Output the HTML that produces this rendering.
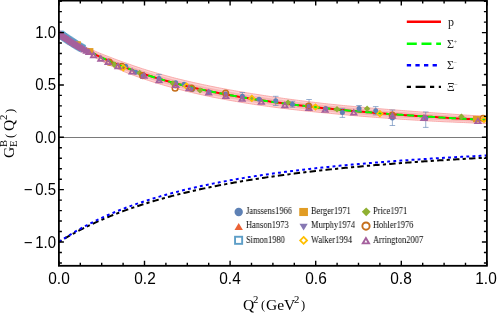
<!DOCTYPE html>
<html><head><meta charset="utf-8"><style>
html,body{margin:0;padding:0;background:#fff;}
body{width:498px;height:314px;position:relative;overflow:hidden;font-family:"Liberation Sans",sans-serif;}
.t{position:absolute;will-change:transform;white-space:nowrap;color:#000;line-height:1;}
.yl{font-size:15px;width:40px;text-align:right;left:16px;transform:scaleY(1.07);transform-origin:50% 50%;}
.xl{font-size:15px;width:40px;text-align:center;top:271px;transform:scale(1.03,1.07);transform-origin:50% 50%;}
.mn{display:inline-block;margin-right:2.6px;}
.lg{font-family:"Liberation Serif",serif;font-size:9.5px;color:#000;transform-origin:0 50%;transform:scaleX(0.888);}
.ll{font-family:"Liberation Serif",serif;font-size:12px;color:#222;}
.ll sup{font-size:6.5px;vertical-align:baseline;position:relative;top:-4.2px;color:#666;margin-left:-0.5px;}
.ax{font-family:"Liberation Serif",serif;font-size:15.5px;}
.ax sup,.ax sub{font-size:11px;vertical-align:baseline;position:relative;}
</style></head><body>
<svg width="498" height="314" viewBox="0 0 498 314" style="position:absolute;left:0;top:0">
<rect width="498" height="314" fill="#fff"/>
<clipPath id="cp"><rect x="58.9" y="0.6" width="428.0" height="265.2"/></clipPath>
<g clip-path="url(#cp)">
<line x1="58.9" x2="486.9" y1="137.5" y2="137.5" stroke="#7a7a7a" stroke-width="1"/>
<path d="M58.90 32.60 L61.04 33.93 L63.18 35.23 L65.32 36.50 L67.46 37.71 L69.60 38.88 L71.74 40.04 L73.88 41.22 L76.02 42.37 L78.16 43.50 L80.30 44.60 L82.44 45.61 L84.58 46.60 L86.72 47.56 L88.86 48.50 L91.00 49.42 L93.14 50.35 L95.28 51.29 L97.42 52.20 L99.56 53.09 L101.70 53.97 L103.84 54.82 L105.98 55.66 L108.12 56.48 L110.26 57.29 L112.40 58.13 L114.54 58.95 L116.68 59.76 L118.82 60.55 L120.96 61.33 L123.10 62.09 L125.24 62.84 L127.38 63.57 L129.52 64.34 L131.66 65.10 L133.80 65.85 L135.94 66.58 L138.08 67.30 L140.22 68.01 L142.36 68.71 L144.50 69.39 L146.64 70.07 L148.78 70.73 L150.92 71.38 L153.06 72.02 L155.20 72.65 L157.34 73.27 L159.48 73.89 L161.62 74.50 L163.76 75.10 L165.90 75.69 L168.04 76.27 L170.18 76.84 L172.32 77.41 L174.46 77.96 L176.60 78.51 L178.74 79.04 L180.88 79.57 L183.02 80.10 L185.16 80.61 L187.30 81.11 L189.44 81.61 L191.58 82.10 L193.72 82.59 L195.86 83.06 L198.00 83.53 L200.14 83.99 L202.28 84.45 L204.42 84.90 L206.56 85.34 L208.70 85.78 L210.84 86.22 L212.98 86.66 L215.12 87.09 L217.26 87.51 L219.40 87.93 L221.54 88.34 L223.68 88.75 L225.82 89.15 L227.96 89.55 L230.10 89.94 L232.24 90.32 L234.38 90.70 L236.52 91.08 L238.66 91.45 L240.80 91.81 L242.94 92.17 L245.08 92.53 L247.22 92.88 L249.36 93.23 L251.50 93.57 L253.64 93.91 L255.78 94.24 L257.92 94.59 L260.06 94.93 L262.20 95.26 L264.34 95.60 L266.48 95.92 L268.62 96.25 L270.76 96.57 L272.90 96.88 L275.04 97.20 L277.18 97.51 L279.32 97.81 L281.46 98.11 L283.60 98.41 L285.74 98.71 L287.88 99.00 L290.02 99.29 L292.16 99.57 L294.30 99.86 L296.44 100.14 L298.58 100.41 L300.72 100.69 L302.86 100.96 L305.00 101.23 L307.14 101.50 L309.28 101.76 L311.42 102.02 L313.56 102.28 L315.70 102.53 L317.84 102.78 L319.98 103.03 L322.12 103.28 L324.26 103.53 L326.40 103.77 L328.54 104.01 L330.68 104.23 L332.82 104.45 L334.96 104.67 L337.10 104.89 L339.24 105.10 L341.38 105.31 L343.52 105.52 L345.66 105.73 L347.80 105.94 L349.94 106.14 L352.08 106.34 L354.22 106.54 L356.36 106.74 L358.50 106.93 L360.64 107.12 L362.78 107.31 L364.92 107.50 L367.06 107.69 L369.20 107.88 L371.34 108.06 L373.48 108.24 L375.62 108.42 L377.76 108.60 L379.90 108.78 L382.04 108.95 L384.18 109.13 L386.32 109.30 L388.46 109.47 L390.60 109.64 L392.74 109.80 L394.88 109.97 L397.02 110.13 L399.16 110.29 L401.30 110.45 L403.44 110.62 L405.58 110.79 L407.72 110.95 L409.86 111.11 L412.00 111.28 L414.14 111.44 L416.28 111.59 L418.42 111.75 L420.56 111.91 L422.70 112.06 L424.84 112.22 L426.98 112.37 L429.12 112.52 L431.26 112.67 L433.40 112.82 L435.54 112.96 L437.68 113.11 L439.82 113.25 L441.96 113.40 L444.10 113.54 L446.24 113.70 L448.38 113.86 L450.52 114.03 L452.66 114.19 L454.80 114.34 L456.94 114.50 L459.08 114.66 L461.22 114.81 L463.36 114.95 L465.50 115.08 L467.64 115.21 L469.78 115.34 L471.92 115.47 L474.06 115.60 L476.20 115.73 L478.34 115.85 L480.48 115.98 L482.62 116.10 L484.76 116.23 L486.90 116.35 L486.90 123.55 L484.76 123.46 L482.62 123.37 L480.48 123.28 L478.34 123.19 L476.20 123.09 L474.06 123.00 L471.92 122.90 L469.78 122.81 L467.64 122.71 L465.50 122.61 L463.36 122.51 L461.22 122.41 L459.08 122.33 L456.94 122.25 L454.80 122.17 L452.66 122.09 L450.52 122.00 L448.38 121.91 L446.24 121.83 L444.10 121.74 L441.96 121.63 L439.82 121.51 L437.68 121.40 L435.54 121.28 L433.40 121.17 L431.26 121.05 L429.12 120.93 L426.98 120.81 L424.84 120.69 L422.70 120.56 L420.56 120.44 L418.42 120.31 L416.28 120.18 L414.14 120.06 L412.00 119.93 L409.86 119.79 L407.72 119.66 L405.58 119.53 L403.44 119.39 L401.30 119.25 L399.16 119.10 L397.02 118.96 L394.88 118.80 L392.74 118.65 L390.60 118.50 L388.46 118.34 L386.32 118.18 L384.18 118.03 L382.04 117.86 L379.90 117.70 L377.76 117.54 L375.62 117.37 L373.48 117.20 L371.34 117.03 L369.20 116.86 L367.06 116.69 L364.92 116.51 L362.78 116.34 L360.64 116.16 L358.50 115.97 L356.36 115.79 L354.22 115.61 L352.08 115.42 L349.94 115.23 L347.80 115.04 L345.66 114.84 L343.52 114.64 L341.38 114.45 L339.24 114.25 L337.10 114.04 L334.96 113.84 L332.82 113.63 L330.68 113.42 L328.54 113.21 L326.40 113.00 L324.26 112.80 L322.12 112.59 L319.98 112.38 L317.84 112.17 L315.70 111.96 L313.56 111.74 L311.42 111.52 L309.28 111.30 L307.14 111.07 L305.00 110.84 L302.86 110.61 L300.72 110.38 L298.58 110.14 L296.44 109.90 L294.30 109.66 L292.16 109.41 L290.02 109.15 L287.88 108.90 L285.74 108.64 L283.60 108.38 L281.46 108.11 L279.32 107.85 L277.18 107.57 L275.04 107.30 L272.90 107.02 L270.76 106.73 L268.62 106.45 L266.48 106.16 L264.34 105.86 L262.20 105.56 L260.06 105.26 L257.92 104.95 L255.78 104.64 L253.64 104.31 L251.50 103.98 L249.36 103.64 L247.22 103.30 L245.08 102.95 L242.94 102.60 L240.80 102.25 L238.66 101.88 L236.52 101.52 L234.38 101.15 L232.24 100.77 L230.10 100.39 L227.96 100.00 L225.82 99.61 L223.68 99.22 L221.54 98.81 L219.40 98.41 L217.26 97.99 L215.12 97.57 L212.98 97.15 L210.84 96.71 L208.70 96.28 L206.56 95.82 L204.42 95.36 L202.28 94.89 L200.14 94.41 L198.00 93.93 L195.86 93.44 L193.72 92.94 L191.58 92.44 L189.44 91.93 L187.30 91.41 L185.16 90.88 L183.02 90.35 L180.88 89.80 L178.74 89.25 L176.60 88.69 L174.46 88.13 L172.32 87.55 L170.18 86.97 L168.04 86.37 L165.90 85.77 L163.76 85.16 L161.62 84.54 L159.48 83.91 L157.34 83.27 L155.20 82.61 L153.06 81.93 L150.92 81.25 L148.78 80.56 L146.64 79.85 L144.50 79.14 L142.36 78.41 L140.22 77.67 L138.08 76.92 L135.94 76.15 L133.80 75.38 L131.66 74.59 L129.52 73.79 L127.38 72.97 L125.24 72.09 L123.10 71.19 L120.96 70.28 L118.82 69.35 L116.68 68.41 L114.54 67.45 L112.40 66.48 L110.26 65.49 L108.12 64.43 L105.98 63.35 L103.84 62.26 L101.70 61.14 L99.56 60.01 L97.42 58.86 L95.28 57.70 L93.14 56.51 L91.00 55.28 L88.86 54.00 L86.72 52.69 L84.58 51.37 L82.44 50.02 L80.30 48.65 L78.16 47.18 L76.02 45.69 L73.88 44.18 L71.74 42.64 L69.60 41.02 L67.46 39.37 L65.32 37.70 L63.18 36.03 L61.04 34.33 L58.90 32.60Z" fill="#FDD3D3"/>
<path d="M58.90 32.60 L61.04 34.02 L63.18 35.41 L65.32 36.77 L67.46 38.08 L69.60 39.36 L71.74 40.62 L73.88 41.88 L76.02 43.12 L78.16 44.33 L80.30 45.51 L82.44 46.60 L84.58 47.67 L86.72 48.71 L88.86 49.74 L91.00 50.74 L93.14 51.74 L95.28 52.73 L97.42 53.70 L99.56 54.65 L101.70 55.58 L103.84 56.50 L105.98 57.39 L108.12 58.27 L110.26 59.13 L112.40 60.00 L114.54 60.86 L116.68 61.70 L118.82 62.53 L120.96 63.34 L123.10 64.14 L125.24 64.92 L127.38 65.68 L129.52 66.47 L131.66 67.24 L133.80 67.99 L135.94 68.74 L138.08 69.47 L140.22 70.18 L142.36 70.89 L144.50 71.59 L146.64 72.27 L148.78 72.94 L150.92 73.60 L153.06 74.25 L155.20 74.89 L157.34 75.52 L159.48 76.14 L161.62 76.76 L163.76 77.36 L165.90 77.96 L168.04 78.54 L170.18 79.12 L172.32 79.69 L174.46 80.25 L176.60 80.80 L178.74 81.34 L180.88 81.88 L183.02 82.40 L185.16 82.92 L187.30 83.43 L189.44 83.93 L191.58 84.43 L193.72 84.92 L195.86 85.40 L198.00 85.87 L200.14 86.34 L202.28 86.80 L204.42 87.25 L206.56 87.70 L208.70 88.14 L210.84 88.58 L212.98 89.02 L215.12 89.44 L217.26 89.87 L219.40 90.29 L221.54 90.70 L223.68 91.10 L225.82 91.50 L227.96 91.90 L230.10 92.29 L232.24 92.67 L234.38 93.05 L236.52 93.43 L238.66 93.80 L240.80 94.16 L242.94 94.52 L245.08 94.88 L247.22 95.23 L249.36 95.57 L251.50 95.91 L253.64 96.25 L255.78 96.58 L257.92 96.92 L260.06 97.25 L262.20 97.58 L264.34 97.91 L266.48 98.23 L268.62 98.54 L270.76 98.86 L272.90 99.16 L275.04 99.47 L277.18 99.77 L279.32 100.07 L281.46 100.36 L283.60 100.65 L285.74 100.94 L287.88 101.23 L290.02 101.51 L292.16 101.79 L294.30 102.06 L296.44 102.33 L298.58 102.60 L300.72 102.87 L302.86 103.13 L305.00 103.39 L307.14 103.65 L309.28 103.91 L311.42 104.16 L313.56 104.41 L315.70 104.65 L317.84 104.90 L319.98 105.14 L322.12 105.38 L324.26 105.61 L326.40 105.85 L328.54 106.08 L330.68 106.30 L332.82 106.52 L334.96 106.73 L337.10 106.95 L339.24 107.16 L341.38 107.37 L343.52 107.58 L345.66 107.78 L347.80 107.98 L349.94 108.18 L352.08 108.38 L354.22 108.58 L356.36 108.77 L358.50 108.97 L360.64 109.16 L362.78 109.34 L364.92 109.53 L367.06 109.71 L369.20 109.90 L371.34 110.08 L373.48 110.26 L375.62 110.44 L377.76 110.61 L379.90 110.79 L382.04 110.96 L384.18 111.13 L386.32 111.30 L388.46 111.46 L390.60 111.63 L392.74 111.79 L394.88 111.96 L397.02 112.12 L399.16 112.27 L401.30 112.43 L403.44 112.59 L405.58 112.75 L407.72 112.91 L409.86 113.07 L412.00 113.22 L414.14 113.37 L416.28 113.53 L418.42 113.68 L420.56 113.83 L422.70 113.97 L424.84 114.12 L426.98 114.27 L429.12 114.41 L431.26 114.55 L433.40 114.69 L435.54 114.83 L437.68 114.97 L439.82 115.11 L441.96 115.25 L444.10 115.38 L446.24 115.53 L448.38 115.68 L450.52 115.82 L452.66 115.96 L454.80 116.10 L456.94 116.25 L459.08 116.39 L461.22 116.52 L463.36 116.65 L465.50 116.77 L467.64 116.90 L469.78 117.02 L471.92 117.14 L474.06 117.26 L476.20 117.38 L478.34 117.50 L480.48 117.62 L482.62 117.74 L484.76 117.86 L486.90 117.97 L486.90 121.93 L484.76 121.83 L482.62 121.74 L480.48 121.64 L478.34 121.54 L476.20 121.44 L474.06 121.33 L471.92 121.23 L469.78 121.13 L467.64 121.02 L465.50 120.92 L463.36 120.81 L461.22 120.70 L459.08 120.61 L456.94 120.51 L454.80 120.41 L452.66 120.31 L450.52 120.21 L448.38 120.10 L446.24 120.00 L444.10 119.89 L441.96 119.77 L439.82 119.65 L437.68 119.53 L435.54 119.41 L433.40 119.29 L431.26 119.16 L429.12 119.04 L426.98 118.91 L424.84 118.78 L422.70 118.65 L420.56 118.52 L418.42 118.39 L416.28 118.25 L414.14 118.12 L412.00 117.98 L409.86 117.84 L407.72 117.70 L405.58 117.56 L403.44 117.42 L401.30 117.27 L399.16 117.12 L397.02 116.97 L394.88 116.82 L392.74 116.66 L390.60 116.50 L388.46 116.34 L386.32 116.18 L384.18 116.02 L382.04 115.86 L379.90 115.69 L377.76 115.53 L375.62 115.36 L373.48 115.19 L371.34 115.02 L369.20 114.84 L367.06 114.66 L364.92 114.49 L362.78 114.31 L360.64 114.12 L358.50 113.94 L356.36 113.75 L354.22 113.57 L352.08 113.37 L349.94 113.18 L347.80 112.99 L345.66 112.79 L343.52 112.59 L341.38 112.39 L339.24 112.19 L337.10 111.98 L334.96 111.77 L332.82 111.56 L330.68 111.35 L328.54 111.14 L326.40 110.93 L324.26 110.71 L322.12 110.50 L319.98 110.28 L317.84 110.06 L315.70 109.84 L313.56 109.61 L311.42 109.38 L309.28 109.15 L307.14 108.92 L305.00 108.68 L302.86 108.44 L300.72 108.20 L298.58 107.95 L296.44 107.70 L294.30 107.45 L292.16 107.19 L290.02 106.93 L287.88 106.67 L285.74 106.41 L283.60 106.14 L281.46 105.86 L279.32 105.59 L277.18 105.31 L275.04 105.02 L272.90 104.74 L270.76 104.45 L268.62 104.15 L266.48 103.85 L264.34 103.55 L262.20 103.25 L260.06 102.94 L257.92 102.62 L255.78 102.30 L253.64 101.97 L251.50 101.64 L249.36 101.30 L247.22 100.96 L245.08 100.61 L242.94 100.26 L240.80 99.90 L238.66 99.54 L236.52 99.17 L234.38 98.80 L232.24 98.42 L230.10 98.04 L227.96 97.65 L225.82 97.26 L223.68 96.86 L221.54 96.46 L219.40 96.05 L217.26 95.63 L215.12 95.21 L212.98 94.79 L210.84 94.35 L208.70 93.91 L206.56 93.46 L204.42 93.00 L202.28 92.54 L200.14 92.07 L198.00 91.59 L195.86 91.10 L193.72 90.61 L191.58 90.11 L189.44 89.61 L187.30 89.09 L185.16 88.57 L183.02 88.04 L180.88 87.50 L178.74 86.96 L176.60 86.40 L174.46 85.84 L172.32 85.27 L170.18 84.69 L168.04 84.10 L165.90 83.50 L163.76 82.90 L161.62 82.28 L159.48 81.65 L157.34 81.02 L155.20 80.37 L153.06 79.70 L150.92 79.03 L148.78 78.35 L146.64 77.65 L144.50 76.94 L142.36 76.23 L140.22 75.50 L138.08 74.75 L135.94 74.00 L133.80 73.23 L131.66 72.45 L129.52 71.66 L127.38 70.85 L125.24 70.00 L123.10 69.14 L120.96 68.26 L118.82 67.37 L116.68 66.46 L114.54 65.54 L112.40 64.60 L110.26 63.64 L108.12 62.64 L105.98 61.62 L103.84 60.58 L101.70 59.53 L99.56 58.46 L97.42 57.37 L95.28 56.25 L93.14 55.12 L91.00 53.96 L88.86 52.76 L86.72 51.54 L84.58 50.29 L82.44 49.03 L80.30 47.74 L78.16 46.35 L76.02 44.94 L73.88 43.51 L71.74 42.05 L69.60 40.54 L67.46 39.00 L65.32 37.43 L63.18 35.85 L61.04 34.24 L58.90 32.60Z" fill="#FAB6B6"/>
<path d="M58.90 32.60 L61.04 33.93 L63.18 35.23 L65.32 36.50 L67.46 37.71 L69.60 38.88 L71.74 40.04 L73.88 41.22 L76.02 42.37 L78.16 43.50 L80.30 44.60 L82.44 45.61 L84.58 46.60 L86.72 47.56 L88.86 48.50 L91.00 49.42 L93.14 50.35 L95.28 51.29 L97.42 52.20 L99.56 53.09 L101.70 53.97 L103.84 54.82 L105.98 55.66 L108.12 56.48 L110.26 57.29 L112.40 58.13 L114.54 58.95 L116.68 59.76 L118.82 60.55 L120.96 61.33 L123.10 62.09 L125.24 62.84 L127.38 63.57 L129.52 64.34 L131.66 65.10 L133.80 65.85 L135.94 66.58 L138.08 67.30 L140.22 68.01 L142.36 68.71 L144.50 69.39 L146.64 70.07 L148.78 70.73 L150.92 71.38 L153.06 72.02 L155.20 72.65 L157.34 73.27 L159.48 73.89 L161.62 74.50 L163.76 75.10 L165.90 75.69 L168.04 76.27 L170.18 76.84 L172.32 77.41 L174.46 77.96 L176.60 78.51 L178.74 79.04 L180.88 79.57 L183.02 80.10 L185.16 80.61 L187.30 81.11 L189.44 81.61 L191.58 82.10 L193.72 82.59 L195.86 83.06 L198.00 83.53 L200.14 83.99 L202.28 84.45 L204.42 84.90 L206.56 85.34 L208.70 85.78 L210.84 86.22 L212.98 86.66 L215.12 87.09 L217.26 87.51 L219.40 87.93 L221.54 88.34 L223.68 88.75 L225.82 89.15 L227.96 89.55 L230.10 89.94 L232.24 90.32 L234.38 90.70 L236.52 91.08 L238.66 91.45 L240.80 91.81 L242.94 92.17 L245.08 92.53 L247.22 92.88 L249.36 93.23 L251.50 93.57 L253.64 93.91 L255.78 94.24 L257.92 94.59 L260.06 94.93 L262.20 95.26 L264.34 95.60 L266.48 95.92 L268.62 96.25 L270.76 96.57 L272.90 96.88 L275.04 97.20 L277.18 97.51 L279.32 97.81 L281.46 98.11 L283.60 98.41 L285.74 98.71 L287.88 99.00 L290.02 99.29 L292.16 99.57 L294.30 99.86 L296.44 100.14 L298.58 100.41 L300.72 100.69 L302.86 100.96 L305.00 101.23 L307.14 101.50 L309.28 101.76 L311.42 102.02 L313.56 102.28 L315.70 102.53 L317.84 102.78 L319.98 103.03 L322.12 103.28 L324.26 103.53 L326.40 103.77 L328.54 104.01 L330.68 104.23 L332.82 104.45 L334.96 104.67 L337.10 104.89 L339.24 105.10 L341.38 105.31 L343.52 105.52 L345.66 105.73 L347.80 105.94 L349.94 106.14 L352.08 106.34 L354.22 106.54 L356.36 106.74 L358.50 106.93 L360.64 107.12 L362.78 107.31 L364.92 107.50 L367.06 107.69 L369.20 107.88 L371.34 108.06 L373.48 108.24 L375.62 108.42 L377.76 108.60 L379.90 108.78 L382.04 108.95 L384.18 109.13 L386.32 109.30 L388.46 109.47 L390.60 109.64 L392.74 109.80 L394.88 109.97 L397.02 110.13 L399.16 110.29 L401.30 110.45 L403.44 110.62 L405.58 110.79 L407.72 110.95 L409.86 111.11 L412.00 111.28 L414.14 111.44 L416.28 111.59 L418.42 111.75 L420.56 111.91 L422.70 112.06 L424.84 112.22 L426.98 112.37 L429.12 112.52 L431.26 112.67 L433.40 112.82 L435.54 112.96 L437.68 113.11 L439.82 113.25 L441.96 113.40 L444.10 113.54 L446.24 113.70 L448.38 113.86 L450.52 114.03 L452.66 114.19 L454.80 114.34 L456.94 114.50 L459.08 114.66 L461.22 114.81 L463.36 114.95 L465.50 115.08 L467.64 115.21 L469.78 115.34 L471.92 115.47 L474.06 115.60 L476.20 115.73 L478.34 115.85 L480.48 115.98 L482.62 116.10 L484.76 116.23 L486.90 116.35" fill="none" stroke="#F8A3A3" stroke-width="0.9"/>
<path d="M58.90 32.60 L61.04 34.33 L63.18 36.03 L65.32 37.70 L67.46 39.37 L69.60 41.02 L71.74 42.64 L73.88 44.18 L76.02 45.69 L78.16 47.18 L80.30 48.65 L82.44 50.02 L84.58 51.37 L86.72 52.69 L88.86 54.00 L91.00 55.28 L93.14 56.51 L95.28 57.70 L97.42 58.86 L99.56 60.01 L101.70 61.14 L103.84 62.26 L105.98 63.35 L108.12 64.43 L110.26 65.49 L112.40 66.48 L114.54 67.45 L116.68 68.41 L118.82 69.35 L120.96 70.28 L123.10 71.19 L125.24 72.09 L127.38 72.97 L129.52 73.79 L131.66 74.59 L133.80 75.38 L135.94 76.15 L138.08 76.92 L140.22 77.67 L142.36 78.41 L144.50 79.14 L146.64 79.85 L148.78 80.56 L150.92 81.25 L153.06 81.93 L155.20 82.61 L157.34 83.27 L159.48 83.91 L161.62 84.54 L163.76 85.16 L165.90 85.77 L168.04 86.37 L170.18 86.97 L172.32 87.55 L174.46 88.13 L176.60 88.69 L178.74 89.25 L180.88 89.80 L183.02 90.35 L185.16 90.88 L187.30 91.41 L189.44 91.93 L191.58 92.44 L193.72 92.94 L195.86 93.44 L198.00 93.93 L200.14 94.41 L202.28 94.89 L204.42 95.36 L206.56 95.82 L208.70 96.28 L210.84 96.71 L212.98 97.15 L215.12 97.57 L217.26 97.99 L219.40 98.41 L221.54 98.81 L223.68 99.22 L225.82 99.61 L227.96 100.00 L230.10 100.39 L232.24 100.77 L234.38 101.15 L236.52 101.52 L238.66 101.88 L240.80 102.25 L242.94 102.60 L245.08 102.95 L247.22 103.30 L249.36 103.64 L251.50 103.98 L253.64 104.31 L255.78 104.64 L257.92 104.95 L260.06 105.26 L262.20 105.56 L264.34 105.86 L266.48 106.16 L268.62 106.45 L270.76 106.73 L272.90 107.02 L275.04 107.30 L277.18 107.57 L279.32 107.85 L281.46 108.11 L283.60 108.38 L285.74 108.64 L287.88 108.90 L290.02 109.15 L292.16 109.41 L294.30 109.66 L296.44 109.90 L298.58 110.14 L300.72 110.38 L302.86 110.61 L305.00 110.84 L307.14 111.07 L309.28 111.30 L311.42 111.52 L313.56 111.74 L315.70 111.96 L317.84 112.17 L319.98 112.38 L322.12 112.59 L324.26 112.80 L326.40 113.00 L328.54 113.21 L330.68 113.42 L332.82 113.63 L334.96 113.84 L337.10 114.04 L339.24 114.25 L341.38 114.45 L343.52 114.64 L345.66 114.84 L347.80 115.04 L349.94 115.23 L352.08 115.42 L354.22 115.61 L356.36 115.79 L358.50 115.97 L360.64 116.16 L362.78 116.34 L364.92 116.51 L367.06 116.69 L369.20 116.86 L371.34 117.03 L373.48 117.20 L375.62 117.37 L377.76 117.54 L379.90 117.70 L382.04 117.86 L384.18 118.03 L386.32 118.18 L388.46 118.34 L390.60 118.50 L392.74 118.65 L394.88 118.80 L397.02 118.96 L399.16 119.10 L401.30 119.25 L403.44 119.39 L405.58 119.53 L407.72 119.66 L409.86 119.79 L412.00 119.93 L414.14 120.06 L416.28 120.18 L418.42 120.31 L420.56 120.44 L422.70 120.56 L424.84 120.69 L426.98 120.81 L429.12 120.93 L431.26 121.05 L433.40 121.17 L435.54 121.28 L437.68 121.40 L439.82 121.51 L441.96 121.63 L444.10 121.74 L446.24 121.83 L448.38 121.91 L450.52 122.00 L452.66 122.09 L454.80 122.17 L456.94 122.25 L459.08 122.33 L461.22 122.41 L463.36 122.51 L465.50 122.61 L467.64 122.71 L469.78 122.81 L471.92 122.90 L474.06 123.00 L476.20 123.09 L478.34 123.19 L480.48 123.28 L482.62 123.37 L484.76 123.46 L486.90 123.55" fill="none" stroke="#F8A3A3" stroke-width="0.9"/>
<path d="M58.90 32.60 L61.04 34.02 L63.18 35.41 L65.32 36.77 L67.46 38.08 L69.60 39.36 L71.74 40.62 L73.88 41.88 L76.02 43.12 L78.16 44.33 L80.30 45.51 L82.44 46.60 L84.58 47.67 L86.72 48.71 L88.86 49.74 L91.00 50.74 L93.14 51.74 L95.28 52.73 L97.42 53.70 L99.56 54.65 L101.70 55.58 L103.84 56.50 L105.98 57.39 L108.12 58.27 L110.26 59.13 L112.40 60.00 L114.54 60.86 L116.68 61.70 L118.82 62.53 L120.96 63.34 L123.10 64.14 L125.24 64.92 L127.38 65.68 L129.52 66.47 L131.66 67.24 L133.80 67.99 L135.94 68.74 L138.08 69.47 L140.22 70.18 L142.36 70.89 L144.50 71.59 L146.64 72.27 L148.78 72.94 L150.92 73.60 L153.06 74.25 L155.20 74.89 L157.34 75.52 L159.48 76.14 L161.62 76.76 L163.76 77.36 L165.90 77.96 L168.04 78.54 L170.18 79.12 L172.32 79.69 L174.46 80.25 L176.60 80.80 L178.74 81.34 L180.88 81.88 L183.02 82.40 L185.16 82.92 L187.30 83.43 L189.44 83.93 L191.58 84.43 L193.72 84.92 L195.86 85.40 L198.00 85.87 L200.14 86.34 L202.28 86.80 L204.42 87.25 L206.56 87.70 L208.70 88.14 L210.84 88.58 L212.98 89.02 L215.12 89.44 L217.26 89.87 L219.40 90.29 L221.54 90.70 L223.68 91.10 L225.82 91.50 L227.96 91.90 L230.10 92.29 L232.24 92.67 L234.38 93.05 L236.52 93.43 L238.66 93.80 L240.80 94.16 L242.94 94.52 L245.08 94.88 L247.22 95.23 L249.36 95.57 L251.50 95.91 L253.64 96.25 L255.78 96.58 L257.92 96.92 L260.06 97.25 L262.20 97.58 L264.34 97.91 L266.48 98.23 L268.62 98.54 L270.76 98.86 L272.90 99.16 L275.04 99.47 L277.18 99.77 L279.32 100.07 L281.46 100.36 L283.60 100.65 L285.74 100.94 L287.88 101.23 L290.02 101.51 L292.16 101.79 L294.30 102.06 L296.44 102.33 L298.58 102.60 L300.72 102.87 L302.86 103.13 L305.00 103.39 L307.14 103.65 L309.28 103.91 L311.42 104.16 L313.56 104.41 L315.70 104.65 L317.84 104.90 L319.98 105.14 L322.12 105.38 L324.26 105.61 L326.40 105.85 L328.54 106.08 L330.68 106.30 L332.82 106.52 L334.96 106.73 L337.10 106.95 L339.24 107.16 L341.38 107.37 L343.52 107.58 L345.66 107.78 L347.80 107.98 L349.94 108.18 L352.08 108.38 L354.22 108.58 L356.36 108.77 L358.50 108.97 L360.64 109.16 L362.78 109.34 L364.92 109.53 L367.06 109.71 L369.20 109.90 L371.34 110.08 L373.48 110.26 L375.62 110.44 L377.76 110.61 L379.90 110.79 L382.04 110.96 L384.18 111.13 L386.32 111.30 L388.46 111.46 L390.60 111.63 L392.74 111.79 L394.88 111.96 L397.02 112.12 L399.16 112.27 L401.30 112.43 L403.44 112.59 L405.58 112.75 L407.72 112.91 L409.86 113.07 L412.00 113.22 L414.14 113.37 L416.28 113.53 L418.42 113.68 L420.56 113.83 L422.70 113.97 L424.84 114.12 L426.98 114.27 L429.12 114.41 L431.26 114.55 L433.40 114.69 L435.54 114.83 L437.68 114.97 L439.82 115.11 L441.96 115.25 L444.10 115.38 L446.24 115.53 L448.38 115.68 L450.52 115.82 L452.66 115.96 L454.80 116.10 L456.94 116.25 L459.08 116.39 L461.22 116.52 L463.36 116.65 L465.50 116.77 L467.64 116.90 L469.78 117.02 L471.92 117.14 L474.06 117.26 L476.20 117.38 L478.34 117.50 L480.48 117.62 L482.62 117.74 L484.76 117.86 L486.90 117.97" fill="none" stroke="#F9AEAE" stroke-width="0.7"/>
<path d="M58.90 32.60 L61.04 34.24 L63.18 35.85 L65.32 37.43 L67.46 39.00 L69.60 40.54 L71.74 42.05 L73.88 43.51 L76.02 44.94 L78.16 46.35 L80.30 47.74 L82.44 49.03 L84.58 50.29 L86.72 51.54 L88.86 52.76 L91.00 53.96 L93.14 55.12 L95.28 56.25 L97.42 57.37 L99.56 58.46 L101.70 59.53 L103.84 60.58 L105.98 61.62 L108.12 62.64 L110.26 63.64 L112.40 64.60 L114.54 65.54 L116.68 66.46 L118.82 67.37 L120.96 68.26 L123.10 69.14 L125.24 70.00 L127.38 70.85 L129.52 71.66 L131.66 72.45 L133.80 73.23 L135.94 74.00 L138.08 74.75 L140.22 75.50 L142.36 76.23 L144.50 76.94 L146.64 77.65 L148.78 78.35 L150.92 79.03 L153.06 79.70 L155.20 80.37 L157.34 81.02 L159.48 81.65 L161.62 82.28 L163.76 82.90 L165.90 83.50 L168.04 84.10 L170.18 84.69 L172.32 85.27 L174.46 85.84 L176.60 86.40 L178.74 86.96 L180.88 87.50 L183.02 88.04 L185.16 88.57 L187.30 89.09 L189.44 89.61 L191.58 90.11 L193.72 90.61 L195.86 91.10 L198.00 91.59 L200.14 92.07 L202.28 92.54 L204.42 93.00 L206.56 93.46 L208.70 93.91 L210.84 94.35 L212.98 94.79 L215.12 95.21 L217.26 95.63 L219.40 96.05 L221.54 96.46 L223.68 96.86 L225.82 97.26 L227.96 97.65 L230.10 98.04 L232.24 98.42 L234.38 98.80 L236.52 99.17 L238.66 99.54 L240.80 99.90 L242.94 100.26 L245.08 100.61 L247.22 100.96 L249.36 101.30 L251.50 101.64 L253.64 101.97 L255.78 102.30 L257.92 102.62 L260.06 102.94 L262.20 103.25 L264.34 103.55 L266.48 103.85 L268.62 104.15 L270.76 104.45 L272.90 104.74 L275.04 105.02 L277.18 105.31 L279.32 105.59 L281.46 105.86 L283.60 106.14 L285.74 106.41 L287.88 106.67 L290.02 106.93 L292.16 107.19 L294.30 107.45 L296.44 107.70 L298.58 107.95 L300.72 108.20 L302.86 108.44 L305.00 108.68 L307.14 108.92 L309.28 109.15 L311.42 109.38 L313.56 109.61 L315.70 109.84 L317.84 110.06 L319.98 110.28 L322.12 110.50 L324.26 110.71 L326.40 110.93 L328.54 111.14 L330.68 111.35 L332.82 111.56 L334.96 111.77 L337.10 111.98 L339.24 112.19 L341.38 112.39 L343.52 112.59 L345.66 112.79 L347.80 112.99 L349.94 113.18 L352.08 113.37 L354.22 113.57 L356.36 113.75 L358.50 113.94 L360.64 114.12 L362.78 114.31 L364.92 114.49 L367.06 114.66 L369.20 114.84 L371.34 115.02 L373.48 115.19 L375.62 115.36 L377.76 115.53 L379.90 115.69 L382.04 115.86 L384.18 116.02 L386.32 116.18 L388.46 116.34 L390.60 116.50 L392.74 116.66 L394.88 116.82 L397.02 116.97 L399.16 117.12 L401.30 117.27 L403.44 117.42 L405.58 117.56 L407.72 117.70 L409.86 117.84 L412.00 117.98 L414.14 118.12 L416.28 118.25 L418.42 118.39 L420.56 118.52 L422.70 118.65 L424.84 118.78 L426.98 118.91 L429.12 119.04 L431.26 119.16 L433.40 119.29 L435.54 119.41 L437.68 119.53 L439.82 119.65 L441.96 119.77 L444.10 119.89 L446.24 120.00 L448.38 120.10 L450.52 120.21 L452.66 120.31 L454.80 120.41 L456.94 120.51 L459.08 120.61 L461.22 120.70 L463.36 120.81 L465.50 120.92 L467.64 121.02 L469.78 121.13 L471.92 121.23 L474.06 121.33 L476.20 121.44 L478.34 121.54 L480.48 121.64 L482.62 121.74 L484.76 121.83 L486.90 121.93" fill="none" stroke="#F9AEAE" stroke-width="0.7"/>
<path d="M58.90 32.60 L61.04 34.13 L63.18 35.63 L65.32 37.10 L67.46 38.54 L69.60 39.95 L71.74 41.34 L73.88 42.70 L76.02 44.03 L78.16 45.34 L80.30 46.62 L82.44 47.81 L84.58 48.98 L86.72 50.13 L88.86 51.25 L91.00 52.35 L93.14 53.43 L95.28 54.49 L97.42 55.53 L99.56 56.55 L101.70 57.56 L103.84 58.54 L105.98 59.51 L108.12 60.45 L110.26 61.39 L112.40 62.30 L114.54 63.20 L116.68 64.08 L118.82 64.95 L120.96 65.80 L123.10 66.64 L125.24 67.46 L127.38 68.27 L129.52 69.06 L131.66 69.84 L133.80 70.61 L135.94 71.37 L138.08 72.11 L140.22 72.84 L142.36 73.56 L144.50 74.26 L146.64 74.96 L148.78 75.64 L150.92 76.31 L153.06 76.98 L155.20 77.63 L157.34 78.27 L159.48 78.90 L161.62 79.52 L163.76 80.13 L165.90 80.73 L168.04 81.32 L170.18 81.91 L172.32 82.48 L174.46 83.04 L176.60 83.60 L178.74 84.15 L180.88 84.69 L183.02 85.22 L185.16 85.74 L187.30 86.26 L189.44 86.77 L191.58 87.27 L193.72 87.76 L195.86 88.25 L198.00 88.73 L200.14 89.20 L202.28 89.67 L204.42 90.13 L206.56 90.58 L208.70 91.03 L210.84 91.47 L212.98 91.90 L215.12 92.33 L217.26 92.75 L219.40 93.17 L221.54 93.58 L223.68 93.98 L225.82 94.38 L227.96 94.77 L230.10 95.16 L232.24 95.55 L234.38 95.92 L236.52 96.30 L238.66 96.67 L240.80 97.03 L242.94 97.39 L245.08 97.74 L247.22 98.09 L249.36 98.44 L251.50 98.78 L253.64 99.11 L255.78 99.44 L257.92 99.77 L260.06 100.09 L262.20 100.41 L264.34 100.73 L266.48 101.04 L268.62 101.35 L270.76 101.65 L272.90 101.95 L275.04 102.25 L277.18 102.54 L279.32 102.83 L281.46 103.11 L283.60 103.40 L285.74 103.67 L287.88 103.95 L290.02 104.22 L292.16 104.49 L294.30 104.76 L296.44 105.02 L298.58 105.28 L300.72 105.53 L302.86 105.79 L305.00 106.04 L307.14 106.28 L309.28 106.53 L311.42 106.77 L313.56 107.01 L315.70 107.24 L317.84 107.48 L319.98 107.71 L322.12 107.94 L324.26 108.16 L326.40 108.39 L328.54 108.61 L330.68 108.82 L332.82 109.04 L334.96 109.25 L337.10 109.46 L339.24 109.67 L341.38 109.88 L343.52 110.08 L345.66 110.29 L347.80 110.49 L349.94 110.68 L352.08 110.88 L354.22 111.07 L356.36 111.26 L358.50 111.45 L360.64 111.64 L362.78 111.83 L364.92 112.01 L367.06 112.19 L369.20 112.37 L371.34 112.55 L373.48 112.72 L375.62 112.90 L377.76 113.07 L379.90 113.24 L382.04 113.41 L384.18 113.58 L386.32 113.74 L388.46 113.90 L390.60 114.07 L392.74 114.23 L394.88 114.39 L397.02 114.54 L399.16 114.70 L401.30 114.85 L403.44 115.00 L405.58 115.16 L407.72 115.31 L409.86 115.45 L412.00 115.60 L414.14 115.75 L416.28 115.89 L418.42 116.03 L420.56 116.17 L422.70 116.31 L424.84 116.45 L426.98 116.59 L429.12 116.72 L431.26 116.86 L433.40 116.99 L435.54 117.12 L437.68 117.25 L439.82 117.38 L441.96 117.51 L444.10 117.64 L446.24 117.76 L448.38 117.89 L450.52 118.01 L452.66 118.14 L454.80 118.26 L456.94 118.38 L459.08 118.50 L461.22 118.61 L463.36 118.73 L465.50 118.85 L467.64 118.96 L469.78 119.08 L471.92 119.19 L474.06 119.30 L476.20 119.41 L478.34 119.52 L480.48 119.63 L482.62 119.74 L484.76 119.84 L486.90 119.95" fill="none" stroke="#FF0000" stroke-width="2.0"/>
<path d="M58.90 32.60 L61.04 34.13 L63.18 35.63 L65.32 37.10 L67.46 38.54 L69.60 39.95 L71.74 41.34 L73.88 42.70 L76.02 44.03 L78.16 45.34 L80.30 46.62 L82.44 47.81 L84.58 48.98 L86.72 50.13 L88.86 51.25 L91.00 52.35 L93.14 53.43 L95.28 54.49 L97.42 55.53 L99.56 56.55 L101.70 57.56 L103.84 58.54 L105.98 59.51 L108.12 60.45 L110.26 61.39 L112.40 62.30 L114.54 63.20 L116.68 64.08 L118.82 64.95 L120.96 65.80 L123.10 66.64 L125.24 67.46 L127.38 68.27 L129.52 69.06 L131.66 69.84 L133.80 70.61 L135.94 71.37 L138.08 72.11 L140.22 72.84 L142.36 73.56 L144.50 74.26 L146.64 74.96 L148.78 75.64 L150.92 76.31 L153.06 76.98 L155.20 77.63 L157.34 78.27 L159.48 78.90 L161.62 79.52 L163.76 80.13 L165.90 80.73 L168.04 81.32 L170.18 81.91 L172.32 82.48 L174.46 83.04 L176.60 83.60 L178.74 84.15 L180.88 84.69 L183.02 85.22 L185.16 85.74 L187.30 86.26 L189.44 86.77 L191.58 87.27 L193.72 87.76 L195.86 88.25 L198.00 88.73 L200.14 89.20 L202.28 89.67 L204.42 90.13 L206.56 90.58 L208.70 91.03 L210.84 91.47 L212.98 91.90 L215.12 92.33 L217.26 92.75 L219.40 93.17 L221.54 93.58 L223.68 93.98 L225.82 94.38 L227.96 94.77 L230.10 95.16 L232.24 95.55 L234.38 95.92 L236.52 96.30 L238.66 96.67 L240.80 97.03 L242.94 97.39 L245.08 97.74 L247.22 98.09 L249.36 98.44 L251.50 98.78 L253.64 99.11 L255.78 99.44 L257.92 99.77 L260.06 100.09 L262.20 100.41 L264.34 100.73 L266.48 101.04 L268.62 101.35 L270.76 101.65 L272.90 101.95 L275.04 102.25 L277.18 102.54 L279.32 102.83 L281.46 103.11 L283.60 103.40 L285.74 103.67 L287.88 103.95 L290.02 104.22 L292.16 104.49 L294.30 104.76 L296.44 105.02 L298.58 105.28 L300.72 105.53 L302.86 105.79 L305.00 106.04 L307.14 106.28 L309.28 106.53 L311.42 106.77 L313.56 107.01 L315.70 107.24 L317.84 107.48 L319.98 107.71 L322.12 107.94 L324.26 108.16 L326.40 108.39 L328.54 108.61 L330.68 108.82 L332.82 109.04 L334.96 109.25 L337.10 109.46 L339.24 109.67 L341.38 109.88 L343.52 110.08 L345.66 110.29 L347.80 110.49 L349.94 110.68 L352.08 110.88 L354.22 111.07 L356.36 111.26 L358.50 111.45 L360.64 111.64 L362.78 111.83 L364.92 112.01 L367.06 112.19 L369.20 112.37 L371.34 112.55 L373.48 112.72 L375.62 112.90 L377.76 113.07 L379.90 113.24 L382.04 113.41 L384.18 113.58 L386.32 113.74 L388.46 113.90 L390.60 114.07 L392.74 114.23 L394.88 114.39 L397.02 114.54 L399.16 114.70 L401.30 114.85 L403.44 115.00 L405.58 115.16 L407.72 115.31 L409.86 115.45 L412.00 115.60 L414.14 115.75 L416.28 115.89 L418.42 116.03 L420.56 116.17 L422.70 116.31 L424.84 116.45 L426.98 116.59 L429.12 116.72 L431.26 116.86 L433.40 116.99 L435.54 117.12 L437.68 117.25 L439.82 117.38 L441.96 117.51 L444.10 117.64 L446.24 117.76 L448.38 117.89 L450.52 118.01 L452.66 118.14 L454.80 118.26 L456.94 118.38 L459.08 118.50 L461.22 118.61 L463.36 118.73 L465.50 118.85 L467.64 118.96 L469.78 119.08 L471.92 119.19 L474.06 119.30 L476.20 119.41 L478.34 119.52 L480.48 119.63 L482.62 119.74 L484.76 119.84 L486.90 119.95" fill="none" stroke="#00FF00" stroke-width="2.0" stroke-dasharray="7.1 3.4" stroke-dashoffset="5.6"/>
<path d="M58.90 242.00 L61.04 240.68 L63.18 239.39 L65.32 238.12 L67.46 236.87 L69.60 235.65 L71.74 234.45 L73.88 233.27 L76.02 232.12 L78.16 230.98 L80.30 229.86 L82.44 228.77 L84.58 227.69 L86.72 226.63 L88.86 225.59 L91.00 224.57 L93.14 223.57 L95.28 222.58 L97.42 221.61 L99.56 220.66 L101.70 219.72 L103.84 218.80 L105.98 217.90 L108.12 217.00 L110.26 216.13 L112.40 215.27 L114.54 214.42 L116.68 213.58 L118.82 212.76 L120.96 211.96 L123.10 211.16 L125.24 210.38 L127.38 209.61 L129.52 208.85 L131.66 208.11 L133.80 207.37 L135.94 206.65 L138.08 205.94 L140.22 205.24 L142.36 204.55 L144.50 203.87 L146.64 203.20 L148.78 202.54 L150.92 201.89 L153.06 201.25 L155.20 200.62 L157.34 200.00 L159.48 199.39 L161.62 198.78 L163.76 198.19 L165.90 197.60 L168.04 197.03 L170.18 196.46 L172.32 195.90 L174.46 195.34 L176.60 194.80 L178.74 194.26 L180.88 193.73 L183.02 193.21 L185.16 192.69 L187.30 192.18 L189.44 191.68 L191.58 191.19 L193.72 190.70 L195.86 190.22 L198.00 189.74 L200.14 189.27 L202.28 188.81 L204.42 188.36 L206.56 187.91 L208.70 187.46 L210.84 187.02 L212.98 186.59 L215.12 186.16 L217.26 185.74 L219.40 185.33 L221.54 184.92 L223.68 184.51 L225.82 184.11 L227.96 183.72 L230.10 183.33 L232.24 182.94 L234.38 182.56 L236.52 182.18 L238.66 181.81 L240.80 181.45 L242.94 181.08 L245.08 180.73 L247.22 180.37 L249.36 180.02 L251.50 179.68 L253.64 179.34 L255.78 179.00 L257.92 178.67 L260.06 178.34 L262.20 178.02 L264.34 177.70 L266.48 177.38 L268.62 177.07 L270.76 176.76 L272.90 176.45 L275.04 176.15 L277.18 175.85 L279.32 175.55 L281.46 175.26 L283.60 174.97 L285.74 174.69 L287.88 174.41 L290.02 174.13 L292.16 173.85 L294.30 173.58 L296.44 173.31 L298.58 173.04 L300.72 172.78 L302.86 172.52 L305.00 172.26 L307.14 172.00 L309.28 171.75 L311.42 171.50 L313.56 171.25 L315.70 171.01 L317.84 170.77 L319.98 170.53 L322.12 170.29 L324.26 170.06 L326.40 169.83 L328.54 169.60 L330.68 169.37 L332.82 169.15 L334.96 168.92 L337.10 168.70 L339.24 168.49 L341.38 168.27 L343.52 168.06 L345.66 167.85 L347.80 167.64 L349.94 167.43 L352.08 167.23 L354.22 167.03 L356.36 166.83 L358.50 166.63 L360.64 166.43 L362.78 166.24 L364.92 166.04 L367.06 165.85 L369.20 165.67 L371.34 165.48 L373.48 165.29 L375.62 165.11 L377.76 164.93 L379.90 164.75 L382.04 164.57 L384.18 164.40 L386.32 164.22 L388.46 164.05 L390.60 163.88 L392.74 163.71 L394.88 163.54 L397.02 163.38 L399.16 163.21 L401.30 163.05 L403.44 162.89 L405.58 162.73 L407.72 162.57 L409.86 162.41 L412.00 162.26 L414.14 162.10 L416.28 161.95 L418.42 161.80 L420.56 161.65 L422.70 161.50 L424.84 161.35 L426.98 161.21 L429.12 161.06 L431.26 160.92 L433.40 160.78 L435.54 160.64 L437.68 160.50 L439.82 160.36 L441.96 160.22 L444.10 160.09 L446.24 159.95 L448.38 159.82 L450.52 159.69 L452.66 159.56 L454.80 159.43 L456.94 159.30 L459.08 159.17 L461.22 159.04 L463.36 158.92 L465.50 158.79 L467.64 158.67 L469.78 158.55 L471.92 158.43 L474.06 158.31 L476.20 158.19 L478.34 158.07 L480.48 157.95 L482.62 157.84 L484.76 157.72 L486.90 157.61" fill="none" stroke="#000" stroke-width="2.0" stroke-dasharray="3.2 3.2 6.4 3.2" />
<path d="M58.90 242.00 L61.04 240.55 L63.18 239.13 L65.32 237.74 L67.46 236.38 L69.60 235.05 L71.74 233.74 L73.88 232.46 L76.02 231.20 L78.16 229.97 L80.30 228.76 L82.44 227.58 L84.58 226.42 L86.72 225.28 L88.86 224.16 L91.00 223.06 L93.14 221.99 L95.28 220.93 L97.42 219.90 L99.56 218.88 L101.70 217.88 L103.84 216.90 L105.98 215.94 L108.12 215.00 L110.26 214.07 L112.40 213.16 L114.54 212.26 L116.68 211.38 L118.82 210.52 L120.96 209.67 L123.10 208.84 L125.24 208.02 L127.38 207.21 L129.52 206.42 L131.66 205.64 L133.80 204.87 L135.94 204.12 L138.08 203.38 L140.22 202.65 L142.36 201.94 L144.50 201.23 L146.64 200.54 L148.78 199.86 L150.92 199.19 L153.06 198.53 L155.20 197.88 L157.34 197.24 L159.48 196.61 L161.62 195.99 L163.76 195.38 L165.90 194.78 L168.04 194.19 L170.18 193.61 L172.32 193.03 L174.46 192.47 L176.60 191.91 L178.74 191.36 L180.88 190.83 L183.02 190.29 L185.16 189.77 L187.30 189.25 L189.44 188.75 L191.58 188.25 L193.72 187.75 L195.86 187.27 L198.00 186.79 L200.14 186.31 L202.28 185.85 L204.42 185.39 L206.56 184.94 L208.70 184.49 L210.84 184.05 L212.98 183.62 L215.12 183.19 L217.26 182.77 L219.40 182.35 L221.54 181.94 L223.68 181.54 L225.82 181.14 L227.96 180.74 L230.10 180.35 L232.24 179.97 L234.38 179.59 L236.52 179.22 L238.66 178.85 L240.80 178.49 L242.94 178.13 L245.08 177.77 L247.22 177.42 L249.36 177.08 L251.50 176.74 L253.64 176.40 L255.78 176.07 L257.92 175.74 L260.06 175.42 L262.20 175.10 L264.34 174.78 L266.48 174.47 L268.62 174.16 L270.76 173.86 L272.90 173.56 L275.04 173.26 L277.18 172.97 L279.32 172.68 L281.46 172.39 L283.60 172.11 L285.74 171.83 L287.88 171.56 L290.02 171.28 L292.16 171.01 L294.30 170.75 L296.44 170.49 L298.58 170.23 L300.72 169.97 L302.86 169.72 L305.00 169.46 L307.14 169.22 L309.28 168.97 L311.42 168.73 L313.56 168.49 L315.70 168.25 L317.84 168.02 L319.98 167.79 L322.12 167.56 L324.26 167.33 L326.40 167.11 L328.54 166.89 L330.68 166.67 L332.82 166.45 L334.96 166.24 L337.10 166.03 L339.24 165.82 L341.38 165.61 L343.52 165.41 L345.66 165.20 L347.80 165.00 L349.94 164.80 L352.08 164.61 L354.22 164.41 L356.36 164.22 L358.50 164.03 L360.64 163.84 L362.78 163.66 L364.92 163.48 L367.06 163.29 L369.20 163.11 L371.34 162.93 L373.48 162.76 L375.62 162.58 L377.76 162.41 L379.90 162.24 L382.04 162.07 L384.18 161.90 L386.32 161.74 L388.46 161.57 L390.60 161.41 L392.74 161.25 L394.88 161.09 L397.02 160.93 L399.16 160.77 L401.30 160.62 L403.44 160.47 L405.58 160.32 L407.72 160.17 L409.86 160.02 L412.00 159.87 L414.14 159.72 L416.28 159.58 L418.42 159.44 L420.56 159.29 L422.70 159.15 L424.84 159.01 L426.98 158.88 L429.12 158.74 L431.26 158.61 L433.40 158.47 L435.54 158.34 L437.68 158.21 L439.82 158.08 L441.96 157.95 L444.10 157.82 L446.24 157.70 L448.38 157.57 L450.52 157.45 L452.66 157.32 L454.80 157.20 L456.94 157.08 L459.08 156.96 L461.22 156.84 L463.36 156.72 L465.50 156.61 L467.64 156.49 L469.78 156.38 L471.92 156.26 L474.06 156.15 L476.20 156.04 L478.34 155.93 L480.48 155.82 L482.62 155.71 L484.76 155.60 L486.90 155.50" fill="none" stroke="#0000FF" stroke-width="2.0" stroke-dasharray="2.9 3.2"/>
<rect x="57.53" y="31.43" width="5.54" height="5.54" fill="none" stroke="#5D9EC7" stroke-width="1.48"/>
<rect x="58.63" y="32.21" width="5.54" height="5.54" fill="none" stroke="#5D9EC7" stroke-width="1.48"/>
<rect x="59.73" y="32.99" width="5.54" height="5.54" fill="none" stroke="#5D9EC7" stroke-width="1.48"/>
<rect x="60.83" y="33.75" width="5.54" height="5.54" fill="none" stroke="#5D9EC7" stroke-width="1.48"/>
<rect x="61.93" y="34.51" width="5.54" height="5.54" fill="none" stroke="#5D9EC7" stroke-width="1.48"/>
<rect x="63.03" y="35.25" width="5.54" height="5.54" fill="none" stroke="#5D9EC7" stroke-width="1.48"/>
<rect x="64.13" y="36.00" width="5.54" height="5.54" fill="none" stroke="#5D9EC7" stroke-width="1.48"/>
<rect x="65.23" y="36.73" width="5.54" height="5.54" fill="none" stroke="#5D9EC7" stroke-width="1.48"/>
<rect x="66.33" y="37.45" width="5.54" height="5.54" fill="none" stroke="#5D9EC7" stroke-width="1.48"/>
<rect x="67.43" y="38.17" width="5.54" height="5.54" fill="none" stroke="#5D9EC7" stroke-width="1.48"/>
<rect x="68.53" y="38.89" width="5.54" height="5.54" fill="none" stroke="#5D9EC7" stroke-width="1.48"/>
<rect x="69.63" y="39.59" width="5.54" height="5.54" fill="none" stroke="#5D9EC7" stroke-width="1.48"/>
<rect x="70.73" y="40.29" width="5.54" height="5.54" fill="none" stroke="#5D9EC7" stroke-width="1.48"/>
<rect x="71.83" y="40.98" width="5.54" height="5.54" fill="none" stroke="#5D9EC7" stroke-width="1.48"/>
<rect x="72.93" y="41.66" width="5.54" height="5.54" fill="none" stroke="#5D9EC7" stroke-width="1.48"/>
<rect x="74.03" y="42.34" width="5.54" height="5.54" fill="none" stroke="#5D9EC7" stroke-width="1.48"/>
<rect x="75.13" y="43.01" width="5.54" height="5.54" fill="none" stroke="#5D9EC7" stroke-width="1.48"/>
<rect x="76.23" y="43.68" width="5.54" height="5.54" fill="none" stroke="#5D9EC7" stroke-width="1.48"/>
<rect x="77.33" y="44.34" width="5.54" height="5.54" fill="none" stroke="#5D9EC7" stroke-width="1.48"/>
<rect x="78.43" y="44.96" width="5.54" height="5.54" fill="none" stroke="#5D9EC7" stroke-width="1.48"/>
<rect x="79.53" y="45.57" width="5.54" height="5.54" fill="none" stroke="#5D9EC7" stroke-width="1.48"/>
<circle cx="125.68" cy="66.30" r="2.52" fill="#5E81B5"/>
<circle cx="135.68" cy="72.20" r="2.52" fill="#5E81B5"/>
<circle cx="142.35" cy="75.30" r="2.52" fill="#5E81B5"/>
<path d="M159.02 74.40 V82.40 M156.22 74.40 H161.82 M156.22 82.40 H161.82" stroke="#5E81B5" stroke-width="0.8" fill="none" opacity="0.8"/>
<circle cx="159.02" cy="78.40" r="2.52" fill="#5E81B5"/>
<circle cx="175.69" cy="82.80" r="2.52" fill="#5E81B5"/>
<circle cx="184.03" cy="84.20" r="2.52" fill="#5E81B5"/>
<circle cx="192.36" cy="89.60" r="2.52" fill="#5E81B5"/>
<circle cx="209.03" cy="92.00" r="2.52" fill="#5E81B5"/>
<circle cx="225.70" cy="94.00" r="2.52" fill="#5E81B5"/>
<path d="M242.37 92.50 V100.00 M239.57 92.50 H245.17 M239.57 100.00 H245.17" stroke="#5E81B5" stroke-width="0.8" fill="none" opacity="0.8"/>
<circle cx="242.37" cy="96.20" r="2.52" fill="#5E81B5"/>
<circle cx="259.04" cy="99.20" r="2.52" fill="#5E81B5"/>
<path d="M275.71 96.30 V105.40 M272.91 96.30 H278.51 M272.91 105.40 H278.51" stroke="#5E81B5" stroke-width="0.8" fill="none" opacity="0.8"/>
<circle cx="275.71" cy="100.80" r="2.52" fill="#5E81B5"/>
<path d="M292.38 101.30 V107.20 M289.58 101.30 H295.18 M289.58 107.20 H295.18" stroke="#5E81B5" stroke-width="0.8" fill="none" opacity="0.8"/>
<circle cx="292.38" cy="104.20" r="2.52" fill="#5E81B5"/>
<path d="M309.05 99.50 V109.50 M306.25 99.50 H311.85 M306.25 109.50 H311.85" stroke="#5E81B5" stroke-width="0.8" fill="none" opacity="0.8"/>
<circle cx="309.05" cy="106.20" r="2.52" fill="#5E81B5"/>
<circle cx="325.72" cy="108.40" r="2.52" fill="#5E81B5"/>
<path d="M342.39 108.40 V117.40 M339.59 108.40 H345.19 M339.59 117.40 H345.19" stroke="#5E81B5" stroke-width="0.8" fill="none" opacity="0.8"/>
<circle cx="342.39" cy="112.40" r="2.52" fill="#5E81B5"/>
<path d="M359.06 105.50 V111.30 M356.26 105.50 H361.86 M356.26 111.30 H361.86" stroke="#5E81B5" stroke-width="0.8" fill="none" opacity="0.8"/>
<circle cx="359.06" cy="108.40" r="2.52" fill="#5E81B5"/>
<path d="M375.73 106.60 V114.80 M372.93 106.60 H378.53 M372.93 114.80 H378.53" stroke="#5E81B5" stroke-width="0.8" fill="none" opacity="0.8"/>
<circle cx="375.73" cy="110.70" r="2.52" fill="#5E81B5"/>
<path d="M392.40 110.00 V125.50 M389.60 110.00 H395.20 M389.60 125.50 H395.20" stroke="#5E81B5" stroke-width="0.8" fill="none" opacity="0.8"/>
<circle cx="392.40" cy="118.00" r="2.52" fill="#5E81B5"/>
<path d="M425.74 112.00 V127.40 M422.94 112.00 H428.54 M422.94 127.40 H428.54" stroke="#5E81B5" stroke-width="0.8" fill="none" opacity="0.8"/>
<circle cx="425.74" cy="118.30" r="2.52" fill="#5E81B5"/>
<rect x="74.11" y="41.29" width="6.79" height="6.32" fill="#E19C24"/>
<rect x="86.61" y="48.09" width="6.79" height="6.32" fill="#E19C24"/>
<rect x="473.01" y="115.89" width="6.79" height="6.32" fill="#E19C24"/>
<path d="M114.30 61.59 L117.51 64.80 L114.30 68.01 L111.09 64.80Z" fill="#8FB032"/>
<path d="M139.60 69.69 L142.81 72.90 L139.60 76.11 L136.39 72.90Z" fill="#8FB032"/>
<path d="M173.00 80.29 L176.21 83.50 L173.00 86.71 L169.79 83.50Z" fill="#8FB032"/>
<path d="M200.00 87.19 L203.21 90.40 L200.00 93.61 L196.79 90.40Z" fill="#8FB032"/>
<path d="M251.80 95.19 L255.01 98.40 L251.80 101.61 L248.59 98.40Z" fill="#8FB032"/>
<path d="M288.00 99.39 L291.21 102.60 L288.00 105.81 L284.79 102.60Z" fill="#8FB032"/>
<path d="M337.00 106.09 L340.21 109.30 L337.00 112.51 L333.79 109.30Z" fill="#8FB032"/>
<path d="M367.10 105.59 L370.31 108.80 L367.10 112.01 L363.89 108.80Z" fill="#8FB032"/>
<path d="M461.40 113.39 L464.61 116.60 L461.40 119.81 L458.19 116.60Z" fill="#8FB032"/>
<circle cx="109.30" cy="62.20" r="2.84" fill="none" stroke="#C56E1A" stroke-width="1.48"/>
<circle cx="121.80" cy="66.30" r="2.84" fill="none" stroke="#C56E1A" stroke-width="1.48"/>
<circle cx="142.60" cy="75.60" r="2.84" fill="none" stroke="#C56E1A" stroke-width="1.48"/>
<circle cx="175.10" cy="88.20" r="2.84" fill="none" stroke="#C56E1A" stroke-width="1.48"/>
<circle cx="191.50" cy="88.20" r="2.84" fill="none" stroke="#C56E1A" stroke-width="1.48"/>
<circle cx="225.60" cy="93.20" r="2.84" fill="none" stroke="#C56E1A" stroke-width="1.48"/>
<circle cx="308.60" cy="106.00" r="2.84" fill="none" stroke="#C56E1A" stroke-width="1.48"/>
<circle cx="392.20" cy="115.00" r="2.84" fill="none" stroke="#C56E1A" stroke-width="1.48"/>
<circle cx="483.10" cy="118.30" r="2.84" fill="none" stroke="#C56E1A" stroke-width="1.48"/>
<path d="M123.30 64.99 L126.11 67.80 L123.30 70.61 L120.49 67.80Z" fill="none" stroke="#FFBF00" stroke-width="1.48"/>
<path d="M186.50 83.29 L189.31 86.10 L186.50 88.91 L183.69 86.10Z" fill="none" stroke="#FFBF00" stroke-width="1.48"/>
<path d="M251.80 95.59 L254.61 98.40 L251.80 101.21 L248.99 98.40Z" fill="none" stroke="#FFBF00" stroke-width="1.48"/>
<path d="M315.50 104.19 L318.31 107.00 L315.50 109.81 L312.69 107.00Z" fill="none" stroke="#FFBF00" stroke-width="1.48"/>
<path d="M379.90 110.89 L382.71 113.70 L379.90 116.51 L377.09 113.70Z" fill="none" stroke="#FFBF00" stroke-width="1.48"/>
<path d="M484.00 116.49 L486.81 119.30 L484.00 122.11 L481.19 119.30Z" fill="none" stroke="#FFBF00" stroke-width="1.48"/>
<path d="M59.30 30.99 L61.73 35.12 L56.87 35.12Z" fill="none" stroke="#A5609D" stroke-width="1.48" stroke-linejoin="miter"/>
<path d="M60.20 32.23 L62.63 36.37 L57.77 36.37Z" fill="none" stroke="#A5609D" stroke-width="1.48" stroke-linejoin="miter"/>
<path d="M61.10 32.27 L63.53 36.41 L58.67 36.41Z" fill="none" stroke="#A5609D" stroke-width="1.48" stroke-linejoin="miter"/>
<path d="M62.00 33.50 L64.43 37.64 L59.57 37.64Z" fill="none" stroke="#A5609D" stroke-width="1.48" stroke-linejoin="miter"/>
<path d="M62.90 33.53 L65.33 37.67 L60.47 37.67Z" fill="none" stroke="#A5609D" stroke-width="1.48" stroke-linejoin="miter"/>
<path d="M63.80 34.76 L66.23 38.89 L61.37 38.89Z" fill="none" stroke="#A5609D" stroke-width="1.48" stroke-linejoin="miter"/>
<path d="M64.70 34.77 L67.13 38.91 L62.27 38.91Z" fill="none" stroke="#A5609D" stroke-width="1.48" stroke-linejoin="miter"/>
<path d="M65.60 35.99 L68.03 40.12 L63.17 40.12Z" fill="none" stroke="#A5609D" stroke-width="1.48" stroke-linejoin="miter"/>
<path d="M66.50 36.00 L68.93 40.13 L64.07 40.13Z" fill="none" stroke="#A5609D" stroke-width="1.48" stroke-linejoin="miter"/>
<path d="M67.40 37.20 L69.83 41.33 L64.97 41.33Z" fill="none" stroke="#A5609D" stroke-width="1.48" stroke-linejoin="miter"/>
<path d="M68.30 37.20 L70.73 41.33 L65.87 41.33Z" fill="none" stroke="#A5609D" stroke-width="1.48" stroke-linejoin="miter"/>
<path d="M69.20 38.39 L71.63 42.52 L66.77 42.52Z" fill="none" stroke="#A5609D" stroke-width="1.48" stroke-linejoin="miter"/>
<path d="M70.10 38.38 L72.53 42.51 L67.67 42.51Z" fill="none" stroke="#A5609D" stroke-width="1.48" stroke-linejoin="miter"/>
<path d="M71.00 39.56 L73.43 43.69 L68.57 43.69Z" fill="none" stroke="#A5609D" stroke-width="1.48" stroke-linejoin="miter"/>
<path d="M71.90 39.54 L74.33 43.67 L69.47 43.67Z" fill="none" stroke="#A5609D" stroke-width="1.48" stroke-linejoin="miter"/>
<path d="M72.80 40.71 L75.23 44.85 L70.37 44.85Z" fill="none" stroke="#A5609D" stroke-width="1.48" stroke-linejoin="miter"/>
<path d="M73.70 40.68 L76.13 44.82 L71.27 44.82Z" fill="none" stroke="#A5609D" stroke-width="1.48" stroke-linejoin="miter"/>
<path d="M74.60 41.85 L77.03 45.98 L72.17 45.98Z" fill="none" stroke="#A5609D" stroke-width="1.48" stroke-linejoin="miter"/>
<path d="M75.50 41.81 L77.93 45.94 L73.07 45.94Z" fill="none" stroke="#A5609D" stroke-width="1.48" stroke-linejoin="miter"/>
<path d="M76.40 42.96 L78.83 47.10 L73.97 47.10Z" fill="none" stroke="#A5609D" stroke-width="1.48" stroke-linejoin="miter"/>
<path d="M77.30 42.92 L79.73 47.05 L74.87 47.05Z" fill="none" stroke="#A5609D" stroke-width="1.48" stroke-linejoin="miter"/>
<path d="M78.20 44.06 L80.63 48.20 L75.77 48.20Z" fill="none" stroke="#A5609D" stroke-width="1.48" stroke-linejoin="miter"/>
<path d="M79.10 44.01 L81.53 48.14 L76.67 48.14Z" fill="none" stroke="#A5609D" stroke-width="1.48" stroke-linejoin="miter"/>
<path d="M80.00 45.14 L82.43 49.28 L77.57 49.28Z" fill="none" stroke="#A5609D" stroke-width="1.48" stroke-linejoin="miter"/>
<path d="M80.90 45.06 L83.33 49.19 L78.47 49.19Z" fill="none" stroke="#A5609D" stroke-width="1.48" stroke-linejoin="miter"/>
<path d="M81.80 46.16 L84.23 50.29 L79.37 50.29Z" fill="none" stroke="#A5609D" stroke-width="1.48" stroke-linejoin="miter"/>
<path d="M82.70 46.06 L85.13 50.19 L80.27 50.19Z" fill="none" stroke="#A5609D" stroke-width="1.48" stroke-linejoin="miter"/>
<path d="M84.30 47.28 L86.95 51.78 L81.65 51.78Z" fill="none" stroke="#A5609D" stroke-width="1.61" stroke-linejoin="miter"/>
<path d="M86.40 48.40 L89.05 52.91 L83.75 52.91Z" fill="none" stroke="#A5609D" stroke-width="1.61" stroke-linejoin="miter"/>
<path d="M88.80 49.66 L91.45 54.17 L86.15 54.17Z" fill="none" stroke="#A5609D" stroke-width="1.61" stroke-linejoin="miter"/>
<path d="M93.57 52.73 L96.31 57.39 L90.82 57.39Z" fill="none" stroke="#A5609D" stroke-width="1.67" stroke-linejoin="miter"/>
<path d="M100.84 56.24 L103.59 60.90 L98.10 60.90Z" fill="none" stroke="#A5609D" stroke-width="1.67" stroke-linejoin="miter"/>
<path d="M108.12 59.54 L110.87 64.20 L105.37 64.20Z" fill="none" stroke="#A5609D" stroke-width="1.67" stroke-linejoin="miter"/>
<path d="M117.96 63.69 L120.71 68.35 L115.22 68.35Z" fill="none" stroke="#A5609D" stroke-width="1.67" stroke-linejoin="miter"/>
<path d="M132.09 69.08 L134.83 73.75 L129.34 73.75Z" fill="none" stroke="#A5609D" stroke-width="1.67" stroke-linejoin="miter"/>
<path d="M144.07 73.21 L146.82 77.87 L141.33 77.87Z" fill="none" stroke="#A5609D" stroke-width="1.67" stroke-linejoin="miter"/>
<path d="M159.05 77.85 L161.80 82.52 L156.31 82.52Z" fill="none" stroke="#A5609D" stroke-width="1.67" stroke-linejoin="miter"/>
<path d="M175.74 82.46 L178.49 87.13 L173.00 87.13Z" fill="none" stroke="#A5609D" stroke-width="1.67" stroke-linejoin="miter"/>
<path d="M189.01 85.75 L191.76 90.41 L186.27 90.41Z" fill="none" stroke="#A5609D" stroke-width="1.67" stroke-linejoin="miter"/>
<path d="M208.70 90.11 L211.45 94.77 L205.95 94.77Z" fill="none" stroke="#A5609D" stroke-width="1.67" stroke-linejoin="miter"/>
<path d="M225.82 93.46 L228.57 98.13 L223.07 98.13Z" fill="none" stroke="#A5609D" stroke-width="1.67" stroke-linejoin="miter"/>
<path d="M242.08 96.33 L244.83 100.99 L239.34 100.99Z" fill="none" stroke="#A5609D" stroke-width="1.67" stroke-linejoin="miter"/>
<path d="M261.34 99.37 L264.09 104.03 L258.60 104.03Z" fill="none" stroke="#A5609D" stroke-width="1.67" stroke-linejoin="miter"/>
<path d="M284.88 102.64 L287.63 107.31 L282.14 107.31Z" fill="none" stroke="#A5609D" stroke-width="1.67" stroke-linejoin="miter"/>
<path d="M308.85 105.56 L311.60 110.22 L306.11 110.22Z" fill="none" stroke="#A5609D" stroke-width="1.67" stroke-linejoin="miter"/>
<path d="M325.12 107.33 L327.86 112.00 L322.37 112.00Z" fill="none" stroke="#A5609D" stroke-width="1.67" stroke-linejoin="miter"/>
<path d="M353.79 110.11 L356.54 114.78 L351.05 114.78Z" fill="none" stroke="#A5609D" stroke-width="1.67" stroke-linejoin="miter"/>
<path d="M392.31 113.28 L395.06 117.94 L389.57 117.94Z" fill="none" stroke="#A5609D" stroke-width="1.67" stroke-linejoin="miter"/>
<path d="M423.98 115.48 L426.73 120.14 L421.24 120.14Z" fill="none" stroke="#A5609D" stroke-width="1.67" stroke-linejoin="miter"/>
<path d="M477.91 118.58 L480.66 123.24 L475.17 123.24Z" fill="none" stroke="#A5609D" stroke-width="1.67" stroke-linejoin="miter"/>
</g>
<rect x="58.9" y="0.6" width="428.0" height="265.2" fill="none" stroke="#000" stroke-width="1.8"/>
<path d="M58.90 265.8 v-5 M58.90 0.6 v5 M80.30 265.8 v-3 M80.30 0.6 v3 M101.70 265.8 v-3 M101.70 0.6 v3 M123.10 265.8 v-3 M123.10 0.6 v3 M144.50 265.8 v-5 M144.50 0.6 v5 M165.90 265.8 v-3 M165.90 0.6 v3 M187.30 265.8 v-3 M187.30 0.6 v3 M208.70 265.8 v-3 M208.70 0.6 v3 M230.10 265.8 v-5 M230.10 0.6 v5 M251.50 265.8 v-3 M251.50 0.6 v3 M272.90 265.8 v-3 M272.90 0.6 v3 M294.30 265.8 v-3 M294.30 0.6 v3 M315.70 265.8 v-5 M315.70 0.6 v5 M337.10 265.8 v-3 M337.10 0.6 v3 M358.50 265.8 v-3 M358.50 0.6 v3 M379.90 265.8 v-3 M379.90 0.6 v3 M401.30 265.8 v-5 M401.30 0.6 v5 M422.70 265.8 v-3 M422.70 0.6 v3 M444.10 265.8 v-3 M444.10 0.6 v3 M465.50 265.8 v-3 M465.50 0.6 v3 M486.90 265.8 v-5 M486.90 0.6 v5 M58.9 262.94 h3 M486.9 262.94 h-3 M58.9 252.47 h3 M486.9 252.47 h-3 M58.9 242.00 h5 M486.9 242.00 h-5 M58.9 231.53 h3 M486.9 231.53 h-3 M58.9 221.06 h3 M486.9 221.06 h-3 M58.9 210.59 h3 M486.9 210.59 h-3 M58.9 200.12 h3 M486.9 200.12 h-3 M58.9 189.65 h5 M486.9 189.65 h-5 M58.9 179.18 h3 M486.9 179.18 h-3 M58.9 168.71 h3 M486.9 168.71 h-3 M58.9 158.24 h3 M486.9 158.24 h-3 M58.9 147.77 h3 M486.9 147.77 h-3 M58.9 137.30 h5 M486.9 137.30 h-5 M58.9 126.83 h3 M486.9 126.83 h-3 M58.9 116.36 h3 M486.9 116.36 h-3 M58.9 105.89 h3 M486.9 105.89 h-3 M58.9 95.42 h3 M486.9 95.42 h-3 M58.9 84.95 h5 M486.9 84.95 h-5 M58.9 74.48 h3 M486.9 74.48 h-3 M58.9 64.01 h3 M486.9 64.01 h-3 M58.9 53.54 h3 M486.9 53.54 h-3 M58.9 43.07 h3 M486.9 43.07 h-3 M58.9 32.60 h5 M486.9 32.60 h-5 M58.9 22.13 h3 M486.9 22.13 h-3 M58.9 11.66 h3 M486.9 11.66 h-3 M58.9 1.19 h3 M486.9 1.19 h-3" stroke="#000" stroke-width="1.4" fill="none"/>
<line x1="406.8" x2="441" y1="21.8" y2="21.8" stroke="#FF0000" stroke-width="2.4"/>
<line x1="406.8" x2="441" y1="43.7" y2="43.7" stroke="#00FF00" stroke-width="2.4" stroke-dasharray="10 4.7"/>
<line x1="406.8" x2="441" y1="65.2" y2="65.2" stroke="#0000FF" stroke-width="2.4" stroke-dasharray="4.3 4.3"/>
<line x1="406.8" x2="441" y1="86.9" y2="86.9" stroke="#000" stroke-width="2.4" stroke-dasharray="4.2 4.6 9.8 4.6"/>
<circle cx="238.70" cy="212.00" r="4.20" fill="#5E81B5"/>
<path d="M238.70 223.10 L242.90 230.00 L234.50 230.00Z" fill="#EB6235"/>
<rect x="235.05" y="236.75" width="7.10" height="7.10" fill="none" stroke="#5D9EC7" stroke-width="1.90"/>
<rect x="299.25" y="207.95" width="8.70" height="8.10" fill="#E19C24"/>
<path d="M303.60 230.40 L307.70 223.70 L299.50 223.70Z" fill="#8778B3"/>
<path d="M303.60 236.97 L307.03 240.40 L303.60 243.83 L300.17 240.40Z" fill="none" stroke="#FFBF00" stroke-width="1.80"/>
<path d="M366.20 207.40 L370.60 211.80 L366.20 216.20 L361.80 211.80Z" fill="#8FB032"/>
<circle cx="366.00" cy="226.10" r="3.64" fill="none" stroke="#C56E1A" stroke-width="1.90"/>
<path d="M365.90 238.10 L369.02 243.40 L362.78 243.40Z" fill="none" stroke="#A5609D" stroke-width="1.90" stroke-linejoin="miter"/>
</svg>
<div class="t yl" style="top:24.8px">1.0</div>
<div class="t yl" style="top:77.4px">0.5</div>
<div class="t yl" style="top:129.9px">0.0</div>
<div class="t yl" style="top:182.3px"><span class="mn">&#8722;</span>0.5</div>
<div class="t yl" style="top:234.7px"><span class="mn">&#8722;</span>1.0</div>
<div class="t xl" style="left:39px">0.0</div>
<div class="t xl" style="left:124.6px">0.2</div>
<div class="t xl" style="left:210.2px">0.4</div>
<div class="t xl" style="left:295.8px">0.6</div>
<div class="t xl" style="left:381.4px">0.8</div>
<div class="t xl" style="left:466px">1.0</div>
<div class="t ax" style="left:243.0px;top:296.5px">Q</div>
<div class="t ax" style="left:253.2px;top:293.6px;font-size:10.7px">2</div>
<div class="t ax" style="left:260.5px;top:299.3px;font-size:12.5px">(</div>
<div class="t ax" style="left:265.9px;top:296.5px">GeV</div>
<div class="t ax" style="left:294.0px;top:293.6px;font-size:10.7px">2</div>
<div class="t ax" style="left:301.0px;top:299.3px;font-size:12.5px">)</div>
<div id="ytitle" style="position:absolute;left:0px;top:158px;width:60px;height:20px;transform-origin:0 0;transform:rotate(-90deg);">
<div class="t ax" style="left:-0.5px;top:1.3px">G</div>
<div class="t ax" style="left:11.3px;top:-1.2px;font-size:10.5px">B</div>
<div class="t ax" style="left:11.3px;top:8.8px;font-size:10.5px">E</div>
<div class="t ax" style="left:20.4px;top:4.1px;font-size:12.5px">(</div>
<div class="t ax" style="left:27.1px;top:1.3px">Q</div>
<div class="t ax" style="left:38.0px;top:-1.6px;font-size:10.7px">2</div>
<div class="t ax" style="left:45.0px;top:4.1px;font-size:12.5px">)</div>
</div>
<div class="t ll" style="left:448px;top:15.5px">p</div>
<div class="t ll" style="left:446.6px;top:37.8px">&Sigma;<sup>+</sup></div>
<div class="t ll" style="left:446.6px;top:59.3px">&Sigma;<sup>&#8722;</sup></div>
<div class="t ll" style="left:446.6px;top:80.9px">&Xi;<sup>&#8722;</sup></div>
<div class="t lg" style="left:246.3px;top:207.1px">Janssens1966</div>
<div class="t lg" style="left:246.3px;top:221.4px">Hanson1973</div>
<div class="t lg" style="left:246.3px;top:235.6px">Simon1980</div>
<div class="t lg" style="left:311.2px;top:207.1px">Berger1971</div>
<div class="t lg" style="left:311.2px;top:221.4px">Murphy1974</div>
<div class="t lg" style="left:311.2px;top:235.6px">Walker1994</div>
<div class="t lg" style="left:373.2px;top:207.1px">Price1971</div>
<div class="t lg" style="left:373.2px;top:221.4px">Hohler1976</div>
<div class="t lg" style="left:373.2px;top:235.6px">Arrington2007</div>
</body></html>
